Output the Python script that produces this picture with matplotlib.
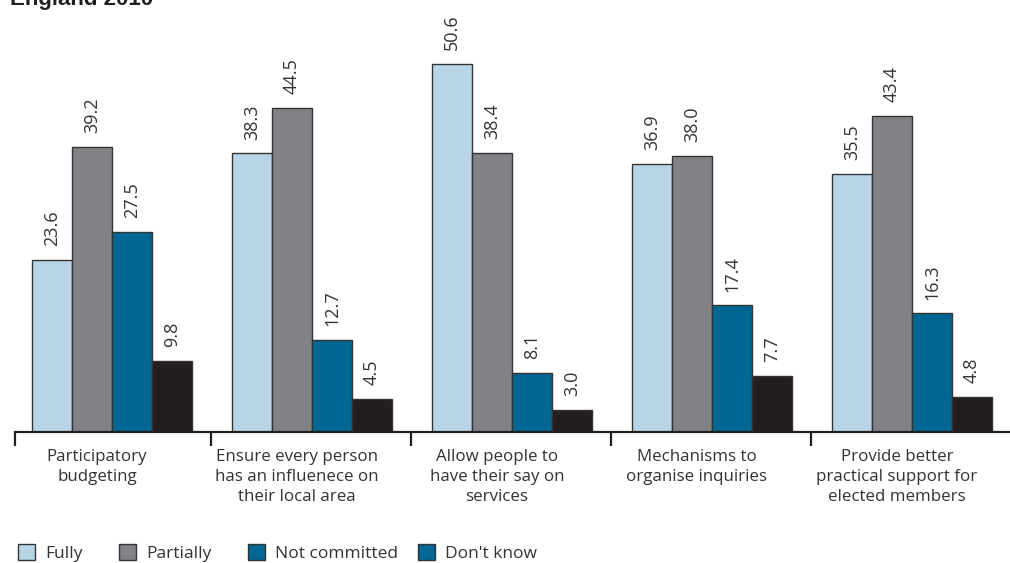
import matplotlib
matplotlib.use("Agg")
import matplotlib.pyplot as plt
import numpy as np
from matplotlib.patches import Patch

categories = ["Participatory\nbudgeting",
              "Ensure every person\nhas an influenece on\ntheir local area",
              "Allow people to\nhave their say on\nservices",
              "Mechanisms to\norganise inquiries",
              "Provide better\npractical support for\nelected members"]
series_names = ["Fully", "Partially", "Not committed", "Don't know"]
fully = [23.6, 38.3, 50.6, 36.9, 35.5]
partially = [39.2, 44.5, 38.4, 38.0, 43.4]
not_committed = [27.5, 12.7, 8.1, 17.4, 16.3]
dont_know = [9.8, 4.5, 3.0, 7.7, 4.8]
title = "England 2010"

bar_colors = ["#b7d5e6", "#808285", "#006794", "#231f20"]
legend_colors = ["#b7d5e6", "#808285", "#006794", "#006794"]
edge = "#333333"
txt = "#333333"
font = "Open Sans"

W, H = 1010, 563
fig = plt.figure(figsize=(W / 100, H / 100), dpi=100)
ax = fig.add_axes([15 / W, 1 - 432 / H, 1 - 15 / W, 432 / H])

x = np.arange(len(categories))
bw = 0.2
series = [fully, partially, not_committed, dont_know]
for k, vals in enumerate(series):
    pos = x + (k - 1.5) * bw
    ax.bar(pos, vals, width=bw, color=bar_colors[k], edgecolor=edge, linewidth=1.0, zorder=2)
    for xp, v in zip(pos, vals):
        ax.annotate(f"{v:.1f}", (xp, v), xytext=(0, 10), textcoords="offset points",
                    rotation=90, ha="center", va="bottom", fontsize=13, color=txt,
                    family=font)

ax.set_xlim(-0.485, 4.49)
ax.set_ylim(0, 432 / 7.273)
for s in ["top", "left", "right"]:
    ax.spines[s].set_visible(False)
ax.spines["bottom"].set_linewidth(1.6)
ax.spines["bottom"].set_color("#231f20")
ax.set_yticks([])
ax.set_xticks(np.maximum(x - 0.505, -0.485))
ax.set_xticklabels([])
ax.tick_params(axis="x", which="major", direction="out", length=10, width=1.6, color="#231f20")
ax.set_xticks(x - 0.505 + 0.43, minor=True)
ax.set_xticklabels(categories, minor=True, fontsize=12.2, color=txt, family=font,
                   linespacing=1.36)
ax.tick_params(axis="x", which="minor", length=0, pad=12)

fig.text(10 / W, 1 - 5 / H, title, fontsize=16, fontweight="bold",
         family="Liberation Sans", ha="left", va="baseline", color="#231f20")

leg_x = [18, 119, 248, 418]
for k, name in enumerate(series_names):
    h = Patch(facecolor=legend_colors[k], edgecolor=edge, linewidth=1.0)
    lg = fig.legend([h], [name], loc="center left",
                    bbox_to_anchor=(leg_x[k] / W, 1 - 553 / H), frameon=False,
                    handlelength=1.0, handleheight=1.0, handletextpad=0.55,
                    borderpad=0, borderaxespad=0,
                    prop={"family": font, "size": 12.5})
    for t in lg.get_texts():
        t.set_color(txt)

fig.savefig("out.png", dpi=100)
